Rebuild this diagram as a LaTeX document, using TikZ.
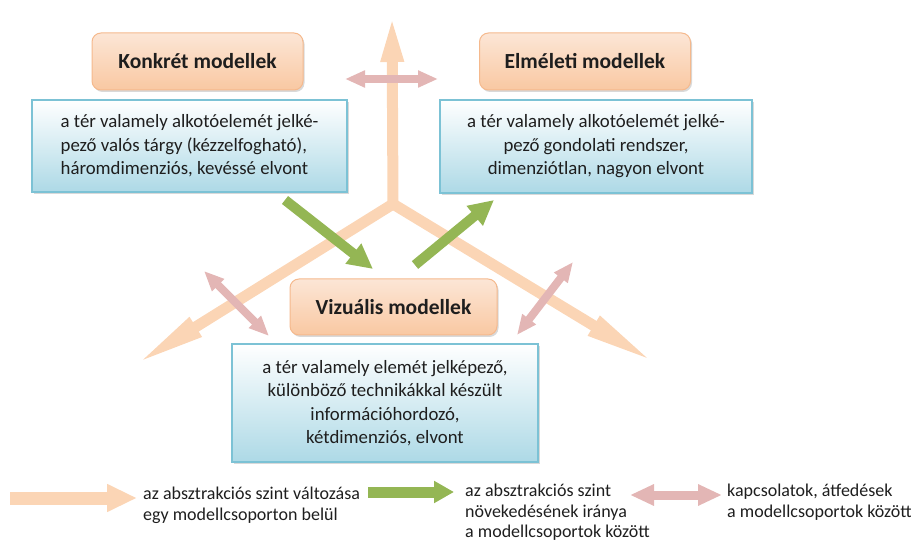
\documentclass[tikz,border=0pt]{standalone}
\usepackage{fontspec}
\setmainfont{Carlito}
\newfontfamily\legfont{Carlito}
\usepackage{tikz}
\usetikzlibrary{positioning,arrows.meta,shadows}

\definecolor{peach}{HTML}{FBD5B5}
\definecolor{leaf}{HTML}{94B654}
\definecolor{rose}{HTML}{E3B6B5}
\definecolor{titleline}{HTML}{F5B98D}
\definecolor{titletop}{HTML}{FCE6D6}
\definecolor{titlemid}{HTML}{FEF5EE}
\definecolor{titlebot}{HTML}{F9C8A2}
\definecolor{infoline}{HTML}{7CC2D5}
\definecolor{infofill}{HTML}{ADD9E6}
\definecolor{ink}{HTML}{1E1E1E}

\begin{document}
\begin{tikzpicture}[x=1pt, y=-1pt,
    modelbox/.style={draw=titleline, line width=1pt, rounded corners=9pt,
                     top color=titletop, middle color=titlemid, bottom color=titlebot,
                     minimum width=211pt, minimum height=57pt, text=ink,
                     font=\fontsize{21.5}{24}\selectfont\bfseries,
                     drop shadow={shadow xshift=1.5pt, shadow yshift=-2pt, opacity=.3}},
    descbox/.style={draw=infoline, line width=1.6pt, top color=white, bottom color=infofill,
                    text=ink, font=\fontsize{18.8}{23.5}\selectfont,
                    drop shadow={shadow xshift=2pt, shadow yshift=-2pt, opacity=.3}},
    absarr/.style={draw=peach, line width=11pt},
    incarr/.style={draw=leaf, line width=10pt, -{Triangle[length=25pt,width=24pt]}},
    relarr/.style={draw=rose, line width=8pt,
                   {Triangle[length=20pt,width=16pt]}-{Triangle[length=20pt,width=16pt]}},
    legtext/.style={inner sep=0pt, align=left, anchor=north west, text=ink,
                    font=\legfont\fontsize{18}{20.5}\selectfont},
  ]
  \useasboundingbox (0,0) rectangle (911,545);

  % Abstraction axes (Y shape)
  \coordinate (hub) at (393,204);
  \coordinate (uptip) at (392,13);
  \coordinate (lefttip) at (133,366);
  \coordinate (righttip) at (657,364);
  \draw[absarr, -{Triangle[length=49pt,width=20pt]}] (hub) -- (uptip);
  \draw[absarr, -{Triangle[length=74pt,width=20pt]}] (hub) -- (lefttip);
  \draw[absarr, -{Triangle[length=74pt,width=20pt]}] (hub) -- (righttip);
  \fill[peach] (hub) circle (5.5pt);

  % Model groups
  \node[modelbox] (konkret) at (197.5,61.5) {Konkrét modellek};
  \node[modelbox] (elmeleti) at (585,61.5) {Elméleti modellek};
  \node[modelbox, minimum width=207pt, minimum height=56pt] (vizualis) at (393.5,307)
        {Vizuális modellek};

  % Descriptions
  \node[descbox, minimum width=315pt, minimum height=92pt, align=left] (konkretd)
        at (189.5,146)
        {a tér valamely alkotóelemét jelké-\\
         pező valós tárgy (kézzelfogható),\\
         háromdimenziós, kevéssé elvont};
  \node[descbox, minimum width=312pt, minimum height=93pt, align=center] (elmeletid)
        at (596,146.5)
        {a tér valamely alkotóelemét jelké-\\
         pező gondolati rendszer,\\
         dimenziótlan, nagyon elvont};
  \node[descbox, minimum width=306pt, minimum height=118pt, align=center] (vizualisd)
        at (385,403)
        {a tér valamely elemét jelképező,\\
         különböző technikákkal készült\\
         információhordozó,\\
         kétdimenziós, elvont};

  % Direction of growing abstraction
  \coordinate (g1s) at (285,200);
  \coordinate (g1e) at (373,269);
  \coordinate (g2s) at (415,265);
  \coordinate (g2e) at (494,200);
  \draw[incarr] (g1s) -- (g1e);
  \draw[incarr] (g2s) -- (g2e);

  % Overlaps between groups
  \coordinate (p0a) at (345,79);
  \coordinate (p0b) at (438,79);
  \coordinate (p1a) at (204,271);
  \coordinate (p1b) at (269,336);
  \coordinate (p2a) at (517,335);
  \coordinate (p2b) at (573,262);
  \draw[relarr] (p0a) -- (p0b);
  \draw[relarr] (p1a) -- (p1b);
  \draw[relarr] (p2a) -- (p2b);

  % Legend
  \coordinate (lo1) at (10,498);
  \coordinate (lo2) at (137,498);
  \coordinate (lg1) at (368,492);
  \coordinate (lg2) at (454,492);
  \coordinate (lp1) at (630,495);
  \coordinate (lp2) at (722,495);
  \draw[absarr, line width=13pt, -{Triangle[length=30pt,width=26pt]}] (lo1) -- (lo2);
  \draw[incarr, line width=11pt, -{Triangle[length=20pt,width=21pt]}] (lg1) -- (lg2);
  \draw[relarr, line width=9pt,
        {Triangle[length=24pt,width=20pt]}-{Triangle[length=24pt,width=20pt]}] (lp1) -- (lp2);
  \node[legtext] (leg1) at (143,487)
        {az absztrakciós szint változása\\egy modellcsoporton belül};
  \node[legtext] (leg2) at (465,484)
        {az absztrakciós szint\\növekedésének iránya\\a modellcsoportok között};
  \node[legtext] (leg3) at (727,484)
        {kapcsolatok, átfedések\\a modellcsoportok között};
\end{tikzpicture}
\end{document}
